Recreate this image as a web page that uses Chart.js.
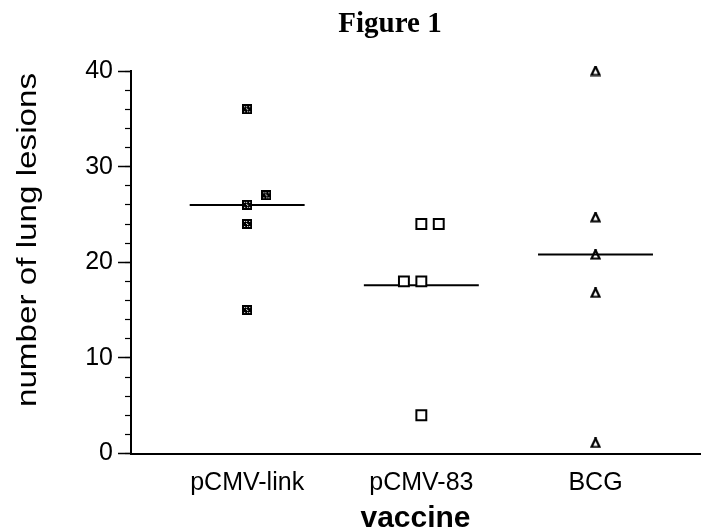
<!DOCTYPE html>
<html>
<head>
<meta charset="utf-8">
<script src="https://cdn.jsdelivr.net/npm/chart.js@4/dist/chart.umd.min.js"></script>
<style>
  html, body { margin: 0; padding: 0; background: #fff; overflow: hidden; }
  canvas { display: block; }
</style>
</head>
<body>
<canvas id="lesionChart" width="701" height="531"></canvas>
<script>
// groups on the x axis
const groups = ["pCMV-link", "pCMV-83", "BCG"];

const linkX = [1, 1.11, 1, 1, 1];
const linkY = [36, 27, 26, 24, 15];

const p83X = [2, 2.1, 1.9, 2, 2];
const p83Y = [24, 24, 18, 18, 4];

const bcgX = [3, 3, 3, 3, 3];
const bcgY = [40, 24.7, 20.8, 16.8, 1.1];

// horizontal mean bars
const meanY = [26, 17.6, 20.8];
const meanHalfSpan = 0.33;

const yTicks = [0, 10, 20, 30, 40];

function toPoints(xs, ys) {
  return xs.map((x, i) => ({ x: x, y: ys[i] }));
}

// marker images
function makeLinkMarker() {
  const c = document.createElement("canvas");
  c.width = 10;
  c.height = 10;
  const g = c.getContext("2d");
  g.fillStyle = "#000";
  g.fillRect(0, 0, 10, 10);
  g.fillStyle = "#fff";
  [[2, 2], [7, 2], [4, 4], [5, 5], [2, 7], [7, 7], [4, 2], [5, 7]].forEach((p) => {
    g.fillRect(p[0], p[1], 1, 1);
  });
  return c;
}

function makeBcgMarker() {
  const c = document.createElement("canvas");
  c.width = 11;
  c.height = 11;
  const g = c.getContext("2d");
  g.strokeStyle = "#000";
  g.lineWidth = 2.2;
  g.beginPath();
  g.moveTo(5.5, 1);
  g.lineTo(1.5, 9.5);
  g.lineTo(9.5, 9.5);
  g.closePath();
  g.stroke();
  g.fillStyle = "#000";
  g.fillRect(4.5, 0, 2, 3);
  return c;
}

// free-drawn texts: stretched y title and figure heading
const extraText = {
  id: "extraText",
  afterDraw(chart) {
    const ctx = chart.ctx;
    ctx.save();
    ctx.fillStyle = "#000";
    ctx.font = "bold 29px 'Liberation Serif', 'Times New Roman', serif";
    ctx.textAlign = "center";
    ctx.textBaseline = "alphabetic";
    ctx.fillText("Figure 1", 390, 32);
    ctx.restore();

    ctx.save();
    ctx.fillStyle = "#000";
    ctx.font = "27px 'Liberation Sans', Arial, sans-serif";
    ctx.textAlign = "center";
    ctx.textBaseline = "alphabetic";
    ctx.translate(36, 240);
    ctx.rotate(-Math.PI / 2);
    ctx.scale(1.23, 1);
    ctx.fillText("number of lung lesions", 0, 0);
    ctx.restore();
  },
};

const meanSets = meanY.map((m, i) => ({
  label: "mean " + groups[i],
  data: [
    { x: i + 1 - meanHalfSpan, y: m },
    { x: i + 1 + meanHalfSpan, y: m },
  ],
  showLine: true,
  borderColor: "#000",
  borderWidth: 2,
  pointRadius: 0,
  order: 2,
}));

const ctx = document.getElementById("lesionChart");

new Chart(ctx, {
  type: "scatter",
  data: {
    datasets: [
      ...meanSets,
      {
        label: groups[0],
        data: toPoints(linkX, linkY),
        pointStyle: makeLinkMarker(),
        clip: false,
        order: 1,
      },
      {
        label: groups[1],
        data: toPoints(p83X, p83Y),
        pointStyle: "rect",
        pointRadius: 7,
        borderWidth: 2,
        borderColor: "#000",
        backgroundColor: "#fff",
        clip: false,
        order: 1,
      },
      {
        label: groups[2],
        data: toPoints(bcgX, bcgY),
        pointStyle: makeBcgMarker(),
        clip: false,
        order: 1,
      },
    ],
  },
  options: {
    responsive: false,
    animation: false,
    events: [],
    layout: {
      autoPadding: false,
      padding: { top: 71, right: 1, bottom: 0, left: 0 },
    },
    plugins: {
      legend: { display: false },
      tooltip: { enabled: false },
      title: { display: false },
    },
    scales: {
      x: {
        type: "linear",
        position: "bottom",
        min: 0.333,
        max: 3.6,
        afterBuildTicks: (scale) => {
          scale.ticks = groups.map((g, i) => ({ value: i + 1 }));
        },
        afterFit: (scale) => {
          scale.height = 77.5;
        },
        ticks: {
          color: "#000",
          padding: 15,
          font: { family: "'Liberation Sans', Arial, sans-serif", size: 25 },
          callback: (v) => groups[v - 1],
        },
        grid: { display: false, drawTicks: false },
        border: { display: true, color: "#000", width: 2 },
        title: {
          display: true,
          text: "vaccine",
          color: "#000",
          padding: { top: 0, bottom: 0 },
          font: {
            family: "'Liberation Sans', Arial, sans-serif",
            size: 30,
            weight: "bold",
            lineHeight: 0.8,
          },
        },
      },
      y: {
        type: "linear",
        position: "left",
        weight: 1,
        min: 0,
        max: 40,
        afterBuildTicks: (scale) => {
          scale.ticks = yTicks.map((v) => ({ value: v }));
        },
        afterFit: (scale) => {
          scale.width = 131;
        },
        ticks: {
          color: "#000",
          padding: 5,
          font: { family: "'Liberation Sans', Arial, sans-serif", size: 25 },
        },
        grid: {
          drawOnChartArea: false,
          drawTicks: true,
          tickLength: 13,
          tickColor: "#000",
          tickWidth: 1.5,
        },
        border: { display: true, color: "#000", width: 2 },
      },
      yMinor: {
        type: "linear",
        position: "left",
        weight: 0,
        min: 0,
        max: 40,
        ticks: { display: false, stepSize: 2 },
        afterFit: (scale) => {
          scale.width = 0;
        },
        grid: {
          drawOnChartArea: false,
          drawTicks: true,
          tickLength: 6,
          tickColor: "#000",
          tickWidth: 1.2,
        },
        border: { display: false },
      },
    },
  },
  plugins: [extraText],
});
</script>
</body>
</html>
